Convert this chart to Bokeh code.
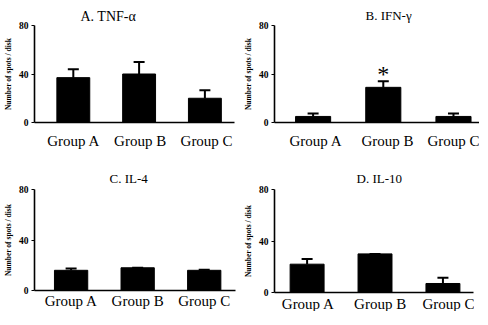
from bokeh.plotting import figure
from bokeh.layouts import gridplot
from bokeh.models import (ColumnDataSource, Range1d, FixedTicker, Whisker, TeeHead,
                          Title, LinearAxis)
from bokeh.core.properties import value
from bokeh.embed import file_html
from bokeh.resources import INLINE

groups = ["Group A", "Group B", "Group C"]
tnf = [37, 40, 20]
tnf_err = [7, 10, 6.5]
ifn = [5, 29, 5]
ifn_err = [2.5, 5, 2.5]
ifn_sig = ["", "*", ""]
il4 = [16, 18, 16]
il4_err = [1.5, 0, 0.5]
il10 = [22, 30, 7]
il10_err = [4, 0, 4.5]
titles = ["A. TNF-\u03b1", "B. IFN-\u03b3", "C. IL-4", "D. IL-10"]
yticks = [0, 40, 80]
ylabel = "Number of spots / disk"

SERIF = "Liberation Serif"
pos = [i + 0.5 for i in range(len(groups))]   # category centres


def panel(title, vals, errs, fw, fh, borders, bar_rng, lab_rng,
          title_off, title_size, title_stand, xstand, sig=None):
    left, right, top, bottom = borders
    p = figure(x_range=Range1d(*bar_rng), y_range=Range1d(0, 80),
               frame_width=fw, frame_height=fh, x_axis_location=None,
               output_backend="svg", toolbar_location=None,
               min_border_left=left, min_border_right=right,
               min_border_top=top, min_border_bottom=bottom,
               background_fill_color="white", border_fill_color="white")
    p.extra_x_ranges = {"lab": Range1d(*lab_rng)}
    p.title = Title(text=title, align="left", offset=title_off,
                    text_font=SERIF, text_font_size=title_size,
                    text_font_style="normal", text_color="black",
                    standoff=title_stand)
    src = ColumnDataSource(dict(x=pos, v=vals,
                                up=[a + b for a, b in zip(vals, errs)]))
    p.vbar(x="x", top="v", width=0.5, source=src, color="black")
    p.add_layout(Whisker(base="x", lower="v", upper="up", source=src,
                         lower_head=None,
                         upper_head=TeeHead(size=11, line_width=2, line_color="black"),
                         line_width=2, line_color="black"))
    if sig is not None:
        ssrc = ColumnDataSource(dict(x=pos, y=[u + 6 for u in src.data["up"]], t=sig))
        p.text(x="x", y="y", text="t", source=ssrc, text_align="center",
               text_baseline="middle", text_font=value(SERIF),
               text_font_size="24px", text_color="black")
    p.xgrid.visible = False
    p.ygrid.visible = False
    p.outline_line_color = None

    xa = LinearAxis(x_range_name="lab", ticker=FixedTicker(ticks=pos),
                    major_label_overrides=dict(zip(pos, groups)))
    xa.major_tick_line_color = None
    xa.minor_tick_line_color = None
    xa.major_tick_out = 0
    xa.major_tick_in = 0
    xa.minor_tick_out = 0
    xa.minor_tick_in = 0
    xa.axis_line_width = 1.6
    xa.axis_line_color = "black"
    xa.major_label_text_font = SERIF
    xa.major_label_text_font_size = "15px"
    xa.major_label_text_color = "black"
    xa.major_label_standoff = xstand
    p.add_layout(xa, "below")

    ya = p.yaxis[0]
    ya.ticker = FixedTicker(ticks=yticks)
    ya.minor_tick_line_color = None
    ya.minor_tick_out = 0
    ya.minor_tick_in = 0
    ya.major_tick_in = 0
    ya.major_tick_out = 3
    ya.major_tick_line_width = 1.2
    ya.axis_line_width = 1.6
    ya.axis_line_color = "black"
    ya.major_label_text_font = SERIF
    ya.major_label_text_font_size = "9.5px"
    ya.major_label_text_font_style = "bold"
    ya.major_label_text_color = "black"
    ya.major_label_standoff = 3
    ya.axis_label = ylabel
    ya.axis_label_text_font = SERIF
    ya.axis_label_text_font_size = "7.5px"
    ya.axis_label_text_font_style = "bold"
    ya.axis_label_text_color = "black"
    ya.axis_label_standoff = 3
    return p


pa = panel(titles[0], tnf, tnf_err, 200, 97, (32, 4, 25, 29),
           (-0.09, 2.95), (-0.09, 2.92), 46, "14px", 4, 10)
pb = panel(titles[1], ifn, ifn_err, 206, 97, (29, 1, 25, 29),
           (-0.05, 2.885), (-0.08, 2.8), 91, "13px", 5, 10, sig=ifn_sig)
pc = panel(titles[2], il4, il4_err, 201, 101, (32, 3, 38, 19),
           (-0.05, 2.97), (-0.05, 2.97), 75, "13px", 8, 2)
pd = panel(titles[3], il10, il10_err, 199, 103, (36, 1, 35, 20),
           (0.02, 2.95), (0.03, 2.8), 82, "13px", 7, 3)

grid = gridplot([[pa, pb], [pc, pd]], toolbar_location=None)

open("out.html", "w").write(file_html(grid, INLINE))
